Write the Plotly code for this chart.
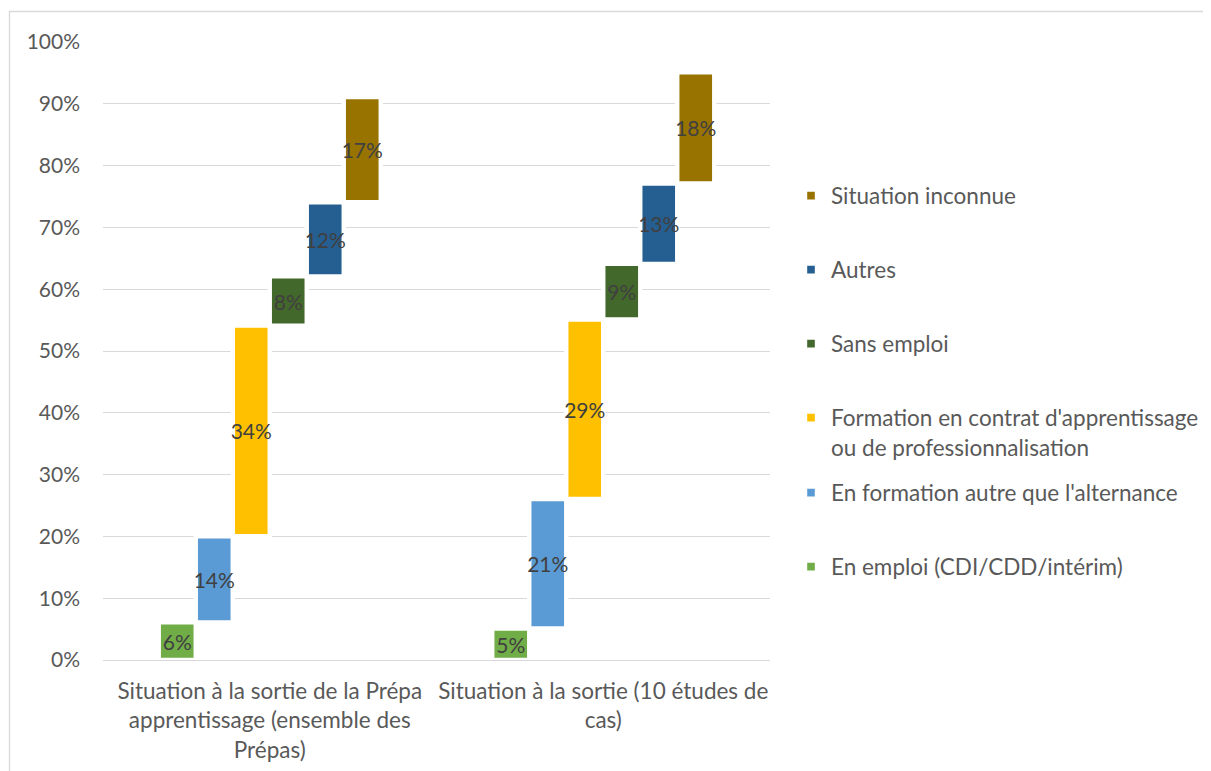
import plotly.graph_objects as go

categories = [
    "Situation à la sortie de la Prépa<br>apprentissage (ensemble des<br>Prépas)",
    "Situation à la sortie (10 études de<br>cas)",
]
series_names = [
    "En emploi (CDI/CDD/intérim)",
    "En formation autre que l'alternance",
    "Formation en contrat d'apprentissage<br>ou de professionnalisation",
    "Sans emploi",
    "Autres",
    "Situation inconnue",
]
values_prepa = [0.0609, 0.1394, 0.3407, 0.0798, 0.1199, 0.1701]
values_cas = [0.0510, 0.2095, 0.2905, 0.0900, 0.1300, 0.1800]
colors = ["#70AD47", "#5B9BD5", "#FFC000", "#43682B", "#255E91", "#997300"]

FONT = "Lato"
TXT = "#595959"
FS_NUM = 21
FS_TXT = 22.5

# page is drawn with an 8px body margin; positions below are page pixels
def py(px):
    return (660 - px) / 618.0

def pxx(px):
    return (px - 103) / 667.0

legend_y = [py(567), py(493), py(432.5), py(344), py(270), py(196)]

fig = go.Figure()
base1 = 0.0
base2 = 0.0
for i, name in enumerate(series_names):
    v = [values_prepa[i], values_cas[i]]
    b = [base1, base2]
    base1 += values_prepa[i]
    base2 += values_cas[i]
    fig.add_trace(go.Bar(
        x=categories,
        y=v,
        base=b,
        name=name,
        marker=dict(color=colors[i], line=dict(color="white", width=4.4)),
        text=[f"{val:.0%}" for val in v],
        textposition="inside",
        insidetextanchor="middle",
        textangle=0,
        constraintext="none",
        insidetextfont=dict(family=FONT, size=FS_NUM, color="#404040"),
        legend="legend" if i == 0 else f"legend{i+1}",
        hoverinfo="skip",
    ))

layout_legends = {}
for i in range(6):
    key = "legend" if i == 0 else f"legend{i+1}"
    layout_legends[key] = dict(
        x=pxx(791), xanchor="left",
        y=legend_y[i], yanchor="middle",
        bgcolor="rgba(0,0,0,0)",
        font=dict(family=FONT, size=FS_TXT, color=TXT),
        valign="top",
        itemclick=False,
    )

fig.update_layout(
    width=1203, height=763,
    margin=dict(l=95, r=441, t=34, b=111, autoexpand=False),
    paper_bgcolor="white", plot_bgcolor="white",
    barmode="group", bargap=0.3343, bargroupgap=0,
    font=dict(family=FONT, size=FS_TXT, color=TXT),
    showlegend=True,
    **layout_legends,
)
fig.update_yaxes(
    range=[0, 1], dtick=0.1, tickformat=".0%",
    showgrid=True, gridcolor="#D9D9D9", gridwidth=1.3,
    zeroline=False, showline=False, ticks="",
    ticklabelstandoff=22, automargin=False,
    tickfont=dict(family=FONT, size=FS_NUM, color=TXT),
)
fig.update_xaxes(
    showgrid=False, showline=True, linecolor="#D9D9D9", linewidth=1.3,
    ticks="", ticklabelstandoff=11, automargin=False,
    tickfont=dict(family=FONT, size=FS_TXT, color=TXT),
)
# outer chart frame
fig.add_shape(type="rect", xref="paper", yref="paper",
              x0=pxx(9.5), x1=1.8, y0=-0.4, y1=py(11.5),
              line=dict(color="#D9D9D9", width=1.3), fillcolor="rgba(0,0,0,0)",
              layer="above")

fig.write_html("out.html")
